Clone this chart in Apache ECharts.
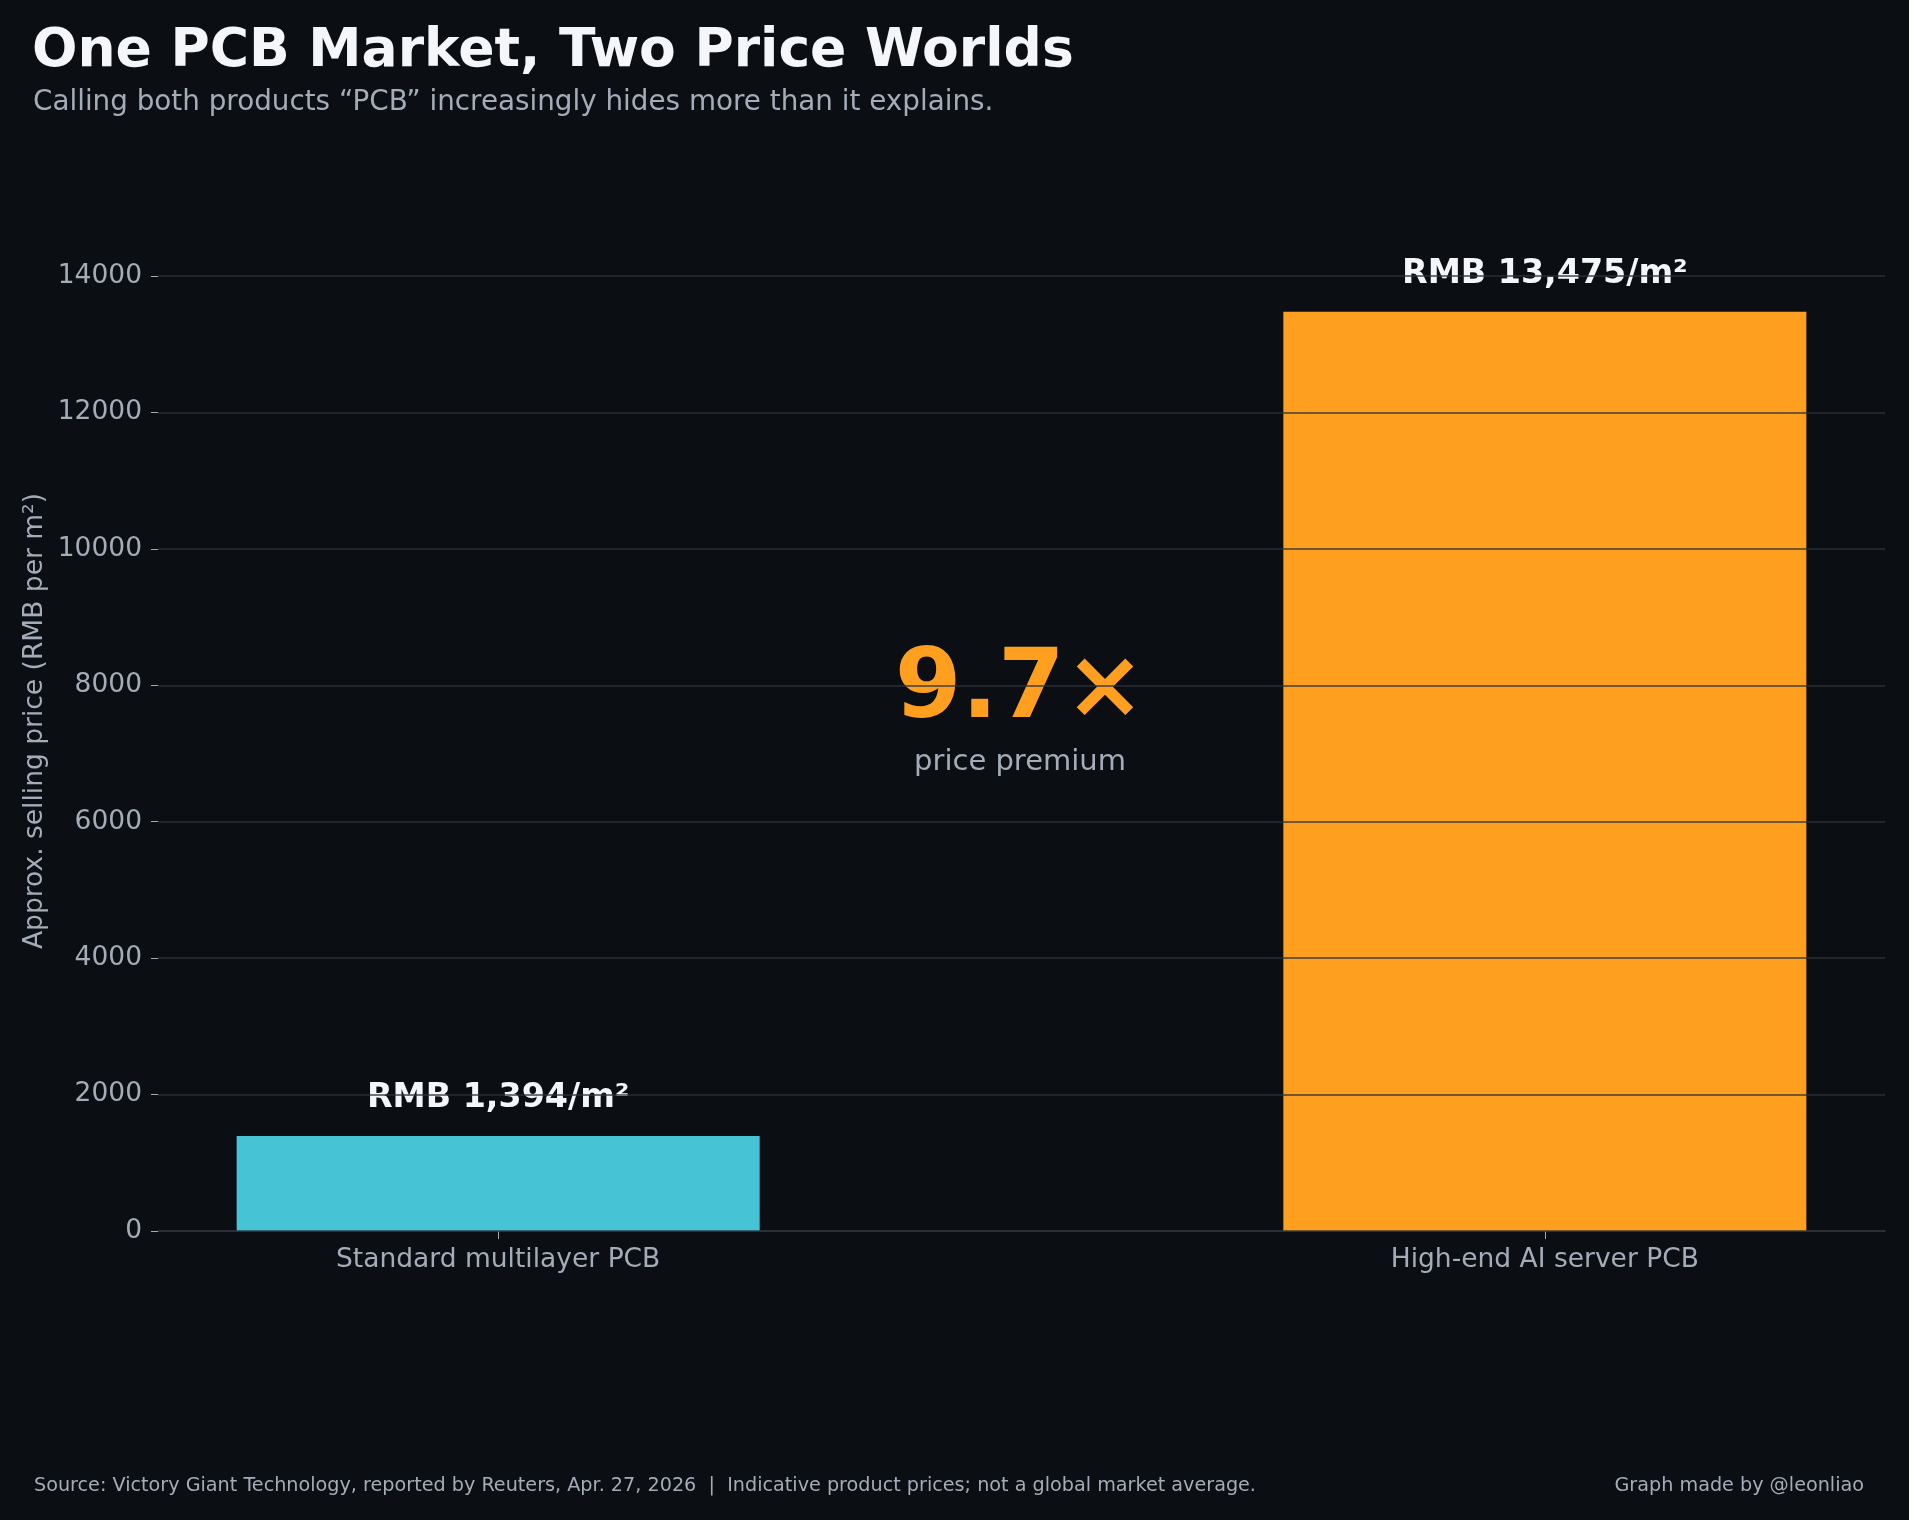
<!DOCTYPE html>
<html>
<head>
<meta charset="utf-8">
<script src="https://cdn.jsdelivr.net/npm/echarts@6/dist/echarts.min.js"></script>
<style>
  html, body { margin: 0; padding: 0; background: #0b0e13; }
  #chart { width: 1909px; height: 1520px; }
</style>
</head>
<body>
<div id="chart"></div>
<script>
const categories = ['Standard multilayer PCB', 'High-end AI server PCB'];
const positions = [0, 1];
const prices = [1394, 13475];
const barColors = ['#46c4d6', '#ff9f1f'];

const grey = '#a3acb8';
const white = '#f4f6f9';
const font = 'DejaVu Sans';

let chartDom = document.getElementById('chart');
let myChart = echarts.init(chartDom);

let barData = prices.map(function (v, i) {
  return { value: [positions[i], v], itemStyle: { color: barColors[i] } };
});
let premium = (prices[1] / prices[0]).toFixed(1);

var option = {
  backgroundColor: '#0b0e13',
  animation: false,
  grid: { left: 158, right: 24, top: 276, bottom: 289 },
  xAxis: {
    type: 'value',
    min: -0.325,
    max: 1.325,
    splitLine: { show: false },
    axisLine: { show: true, lineStyle: { color: '#30353d', width: 1.5 } },
    axisTick: { show: true, customValues: positions, length: 8, lineStyle: { color: grey } },
    axisLabel: {
      customValues: positions,
      margin: 16,
      color: grey,
      fontFamily: font,
      fontSize: 26.5,
      formatter: function (v) { return categories[Math.round(v)]; }
    }
  },
  yAxis: {
    type: 'value',
    min: 0,
    max: 14000,
    interval: 2000,
    z: 3,
    axisLine: { show: false, onZero: false },
    axisTick: { show: true, length: 7, lineStyle: { color: grey } },
    axisLabel: {
      margin: 16, color: grey, fontFamily: font, fontSize: 26.5,
      padding: [5, 0, 0, 0],
      formatter: function (v) { return String(v); }
    },
    splitLine: { lineStyle: { color: 'rgba(46,51,60,0.9)', width: 1.5 } }
  },
  series: [
    {
      type: 'bar',
      data: barData,
      barWidth: 523,
      label: {
        show: true,
        position: 'top',
        distance: 21,
        color: white,
        fontFamily: font,
        fontWeight: 'bold',
        fontSize: 33.3,
        textBorderWidth: 0,
        formatter: function (p) {
          return 'RMB ' + p.value[1].toLocaleString('en-US') + '/m²';
        }
      }
    }
  ],
  graphic: [
    { type: 'text', x: 32, y: 52, style: { text: 'One PCB Market, Two Price Worlds', fill: white, font: 'bold 53.5px "DejaVu Sans"', verticalAlign: 'middle' } },
    { type: 'text', x: 33, y: 102.5, style: { text: 'Calling both products \u201cPCB\u201d increasingly hides more than it explains.', fill: grey, font: '27.8px "DejaVu Sans"', verticalAlign: 'middle' } },
    { type: 'text', x: 35, y: 721, rotation: Math.PI / 2, style: { text: 'Approx. selling price (RMB per m²)', fill: grey, font: '26.5px "DejaVu Sans"', align: 'center', verticalAlign: 'middle' } },
    { type: 'text', x: 1020, y: 692, style: { text: premium + '×', fill: '#ff9f1f', font: 'bold 96px "DejaVu Sans"', align: 'center', verticalAlign: 'middle' } },
    { type: 'text', x: 1020, y: 762, style: { text: 'price premium', fill: grey, font: '29px "DejaVu Sans"', align: 'center', verticalAlign: 'middle' } },
    { type: 'text', x: 34, y: 1486, style: { text: 'Source: Victory Giant Technology, reported by Reuters, Apr. 27, 2026  |  Indicative product prices; not a global market average.', fill: grey, font: '19.2px "DejaVu Sans"', verticalAlign: 'middle' } },
    { type: 'text', x: 1864, y: 1486, style: { text: 'Graph made by @leonliao', fill: grey, font: '19.2px "DejaVu Sans"', align: 'right', verticalAlign: 'middle' } }
  ]
};
myChart.setOption(option);
</script>
</body>
</html>
